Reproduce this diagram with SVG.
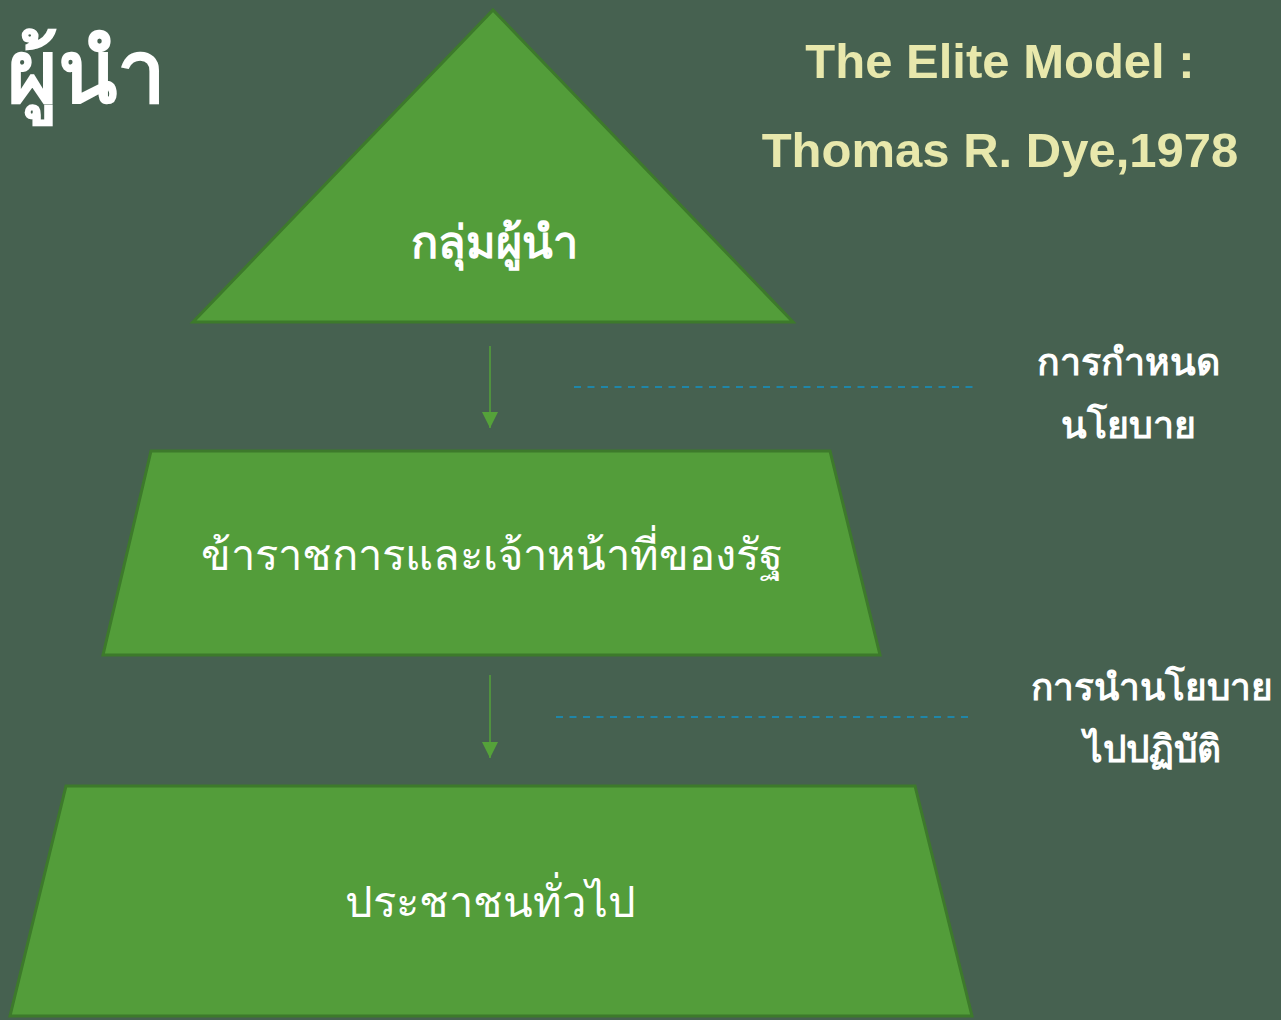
<svg xmlns="http://www.w3.org/2000/svg" width="1281" height="1020" viewBox="0 0 1281 1020">
<defs>
<style>
.shape{fill:#539d3a;stroke:#3d7a2b;stroke-width:3;stroke-linejoin:miter}
.t{font-family:"Noto Sans","DejaVu Sans",sans-serif;fill:#ffffff;text-anchor:middle}
.h{font-family:"Liberation Sans",Arial,sans-serif;font-weight:bold;fill:#e8e8ac;text-anchor:middle;font-size:49px}
.arrow{stroke:#55a23a;stroke-width:1.5;fill:none}
.dash{stroke:#1f86a8;stroke-width:2;stroke-dasharray:7 6.5;fill:none}
</style>
<marker id="ah" markerWidth="16" markerHeight="16" viewBox="0 0 16 16" refX="16" refY="8" orient="auto" markerUnits="userSpaceOnUse">
<path d="M0,0 L16,8 L0,16 Z" fill="#55a23a"/>
</marker>
</defs>
<rect width="1281" height="1020" fill="#466150"/>
<text class="t" x="86" y="102" font-size="87" font-weight="bold">ผู้นำ</text>
<text class="h" x="1000" y="78">The Elite Model :</text>
<text class="h" x="1000" y="167">Thomas R. Dye,1978</text>
<g id="elite">
<polygon class="shape" points="493,10 793,322 193,322"/>
<text class="t" x="494" y="258" font-size="45" font-weight="bold">กลุ่มผู้นำ</text>
</g>
<g id="officials">
<polygon class="shape" points="151,451 830,451 880,655 103,655"/>
<text class="t" x="492" y="570" font-size="43.5">ข้าราชการและเจ้าหน้าที่ของรัฐ</text>
</g>
<g id="public">
<polygon class="shape" points="66,786 915,786 972,1016 10,1016"/>
<text class="t" x="490" y="917" font-size="43.5">ประชาชนทั่วไป</text>
</g>
<g id="connectors">
<line class="arrow" x1="490" y1="346" x2="490" y2="428" marker-end="url(#ah)"/>
<line class="arrow" x1="490" y1="675" x2="490" y2="758" marker-end="url(#ah)"/>
<line class="dash" x1="574" y1="387" x2="974" y2="387"/>
<line class="dash" x1="556" y1="717" x2="974" y2="717"/>
</g>
<g id="label-policy">
<text class="t" x="1128" y="375" font-size="37.5" font-weight="bold">การกำหนด</text>
<text class="t" x="1128" y="438" font-size="37.5" font-weight="bold">นโยบาย</text>
</g>
<g id="label-implement">
<text class="t" x="1152" y="700" font-size="37" font-weight="bold">การนำนโยบาย</text>
<text class="t" x="1152" y="762" font-size="37" font-weight="bold">ไปปฏิบัติ</text>
</g>
</svg>
